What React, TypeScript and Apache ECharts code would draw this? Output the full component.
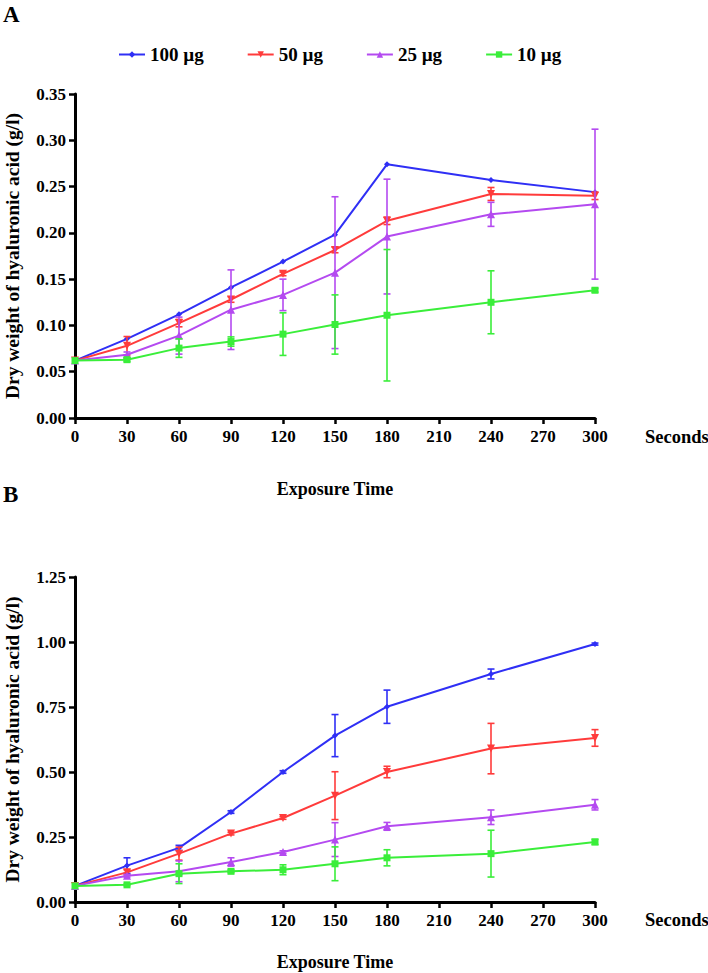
import React, { useEffect, useRef } from "react";
import * as echarts from "echarts";

const xVals = [0, 30, 60, 90, 120, 150, 180, 240, 300];
const seriesNames = ["100 µg", "50 µg", "25 µg", "10 µg"];
const colors = ["#2f2ff5", "#ff3b3b", "#b44af0", "#3aee3a"];

// Panel A
const a100 = [0.062, 0.0855, 0.112, 0.141, 0.169, 0.198, 0.274, 0.257, 0.244];
const a100Err = [0, 0, 0, 0, 0, 0, 0, 0, 0];
const a50 = [0.062, 0.078, 0.1025, 0.128, 0.1557, 0.1815, 0.213, 0.242, 0.24];
const a50Err = [0, 0.01, 0.004, 0.003, 0.002, 0.003, 0.004, 0.007, 0.004];
const a25 = [0.062, 0.0683, 0.089, 0.117, 0.133, 0.157, 0.196, 0.22, 0.231];
const a25Err = [0, 0.003, 0.02, 0.043, 0.017, 0.082, 0.062, 0.013, 0.081];
const a10 = [0.062, 0.063, 0.0755, 0.0826, 0.0906, 0.101, 0.111, 0.125, 0.138];
const a10Err = [0, 0.002, 0.01, 0.005, 0.023, 0.032, 0.071, 0.034, 0.002];

// Panel B
const b100 = [0.062, 0.14, 0.208, 0.346, 0.5, 0.64, 0.751, 0.877, 0.992];
const b100Err = [0, 0.03, 0.01, 0.005, 0.005, 0.081, 0.064, 0.019, 0.004];
const b50 = [0.062, 0.114, 0.186, 0.263, 0.323, 0.409, 0.5, 0.59, 0.631];
const b50Err = [0, 0.01, 0.025, 0.005, 0.005, 0.092, 0.022, 0.097, 0.032];
const b25 = [0.062, 0.101, 0.118, 0.154, 0.192, 0.24, 0.291, 0.326, 0.374];
const b25Err = [0, 0.005, 0.04, 0.016, 0.005, 0.065, 0.015, 0.028, 0.02];
const b10 = [0.062, 0.066, 0.109, 0.118, 0.124, 0.147, 0.17, 0.186, 0.231];
const b10Err = [0, 0.003, 0.038, 0.005, 0.019, 0.065, 0.031, 0.09, 0.01];

const symbols = ["diamond", "triangle", "triangle", "rect"];
const symbolRotates = [0, 180, 0, 0];
const symbolSizes = [6, 8, 8, 7];

const FONT = "'Liberation Serif', 'Times New Roman', serif";

export default function App() {
  const ref = useRef<HTMLDivElement>(null);
  useEffect(() => {
    if (!ref.current) return;
    const chart = echarts.init(ref.current, null, { renderer: "svg" });

    const panelA = [a100, a50, a25, a10];
    const panelAErr = [a100Err, a50Err, a25Err, a10Err];
    const panelB = [b100, b50, b25, b10];
    const panelBErr = [b100Err, b50Err, b25Err, b10Err];

    const lineSeries = (vals: number[], i: number, gi: number) => ({
      type: "line",
      name: seriesNames[i],
      xAxisIndex: gi,
      yAxisIndex: gi,
      data: xVals.map((x, k) => [x, vals[k]]),
      symbol: symbols[i],
      symbolSize: symbolSizes[i],
      symbolRotate: symbolRotates[i],
      showAllSymbol: true,
      lineStyle: { color: colors[i], width: 2 },
      itemStyle: { color: colors[i] },
      z: 3 + i,
    });

    const errSeries = (vals: number[], errs: number[], i: number, gi: number) => ({
      type: "custom",
      name: seriesNames[i] + " err",
      xAxisIndex: gi,
      yAxisIndex: gi,
      data: xVals.map((x, k) => [x, vals[k], errs[k]]),
      z: 3 + i,
      renderItem: (params: any, api: any) => {
        const x = api.value(0);
        const y = api.value(1);
        const e = api.value(2);
        if (!e) return null;
        const top = api.coord([x, y + e]);
        const bot = api.coord([x, y - e]);
        const w = 3.5;
        const style = { stroke: colors[i], lineWidth: 1.6 };
        return {
          type: "group",
          children: [
            { type: "line", shape: { x1: top[0], y1: top[1], x2: bot[0], y2: bot[1] }, style },
            { type: "line", shape: { x1: top[0] - w, y1: top[1], x2: top[0] + w, y2: top[1] }, style },
            { type: "line", shape: { x1: bot[0] - w, y1: bot[1], x2: bot[0] + w, y2: bot[1] }, style },
          ],
        };
      },
    });

    const series: any[] = [];
    panelA.forEach((v, i) => series.push(lineSeries(v, i, 0)));
    panelB.forEach((v, i) => series.push(lineSeries(v, i, 1)));
    panelA.forEach((v, i) => series.push(errSeries(v, panelAErr[i], i, 0)));
    panelB.forEach((v, i) => series.push(errSeries(v, panelBErr[i], i, 1)));

    const axisLine = { show: true, lineStyle: { color: "#000", width: 3 } };
    const axisTick = { show: true, length: 6, lineStyle: { color: "#000", width: 2.5 } };
    const labelStyle = { color: "#000", fontFamily: FONT, fontWeight: "bold", fontSize: 17 };

    const xAxis = (gi: number, nameGap: number) => ({
      type: "value",
      gridIndex: gi,
      min: 0,
      max: 300,
      interval: 30,
      axisLine,
      axisTick,
      splitLine: { show: false },
      axisLabel: { ...labelStyle, margin: 10 },
      name: "Exposure Time",
      nameLocation: "middle",
      nameGap,
      nameTextStyle: { ...labelStyle, fontSize: 18 },
    });

    const yAxis = (gi: number, max: number, interval: number) => ({
      type: "value",
      gridIndex: gi,
      min: 0,
      max,
      interval,
      axisLine,
      axisTick,
      splitLine: { show: false },
      axisLabel: { ...labelStyle, margin: 9, formatter: (v: number) => v.toFixed(2) },
      name: "Dry weight of hyaluronic acid (g/l)",
      nameLocation: "middle",
      nameGap: 53,
      nameTextStyle: { ...labelStyle, fontSize: 19.5 },
    });

    chart.setOption({
      animation: false,
      backgroundColor: "#fff",
      textStyle: { fontFamily: FONT },
      legend: {
        data: seriesNames,
        left: 113,
        top: 40,
        itemGap: 43,
        itemWidth: 26,
        itemHeight: 8,
        textStyle: { ...labelStyle, fontSize: 19 },
      },
      grid: [
        { left: 75, right: 113, top: 94, height: 324, outerBoundsMode: "none", containLabel: false },
        { left: 75, right: 113, top: 577, height: 325, outerBoundsMode: "none", containLabel: false },
      ],
      xAxis: [xAxis(0, 62), xAxis(1, 51)],
      yAxis: [yAxis(0, 0.35, 0.05), yAxis(1, 1.25, 0.25)],
      graphic: [
        { type: "text", left: 3, top: 3, style: { text: "A", font: `bold 23px ${FONT}`, fill: "#000" } },
        { type: "text", left: 3, top: 483, style: { text: "B", font: `bold 23px ${FONT}`, fill: "#000" } },
        { type: "text", left: 645, top: 427, style: { text: "Seconds", font: `bold 18.5px ${FONT}`, fill: "#000" } },
        { type: "text", left: 645, top: 910, style: { text: "Seconds", font: `bold 18.5px ${FONT}`, fill: "#000" } },
      ],
      series,
    });

    return () => chart.dispose();
  }, []);

  return (
    <div
      ref={ref}
      style={{ position: "absolute", left: 0, top: 0, width: 708, height: 973, background: "#fff" }}
    />
  );
}
